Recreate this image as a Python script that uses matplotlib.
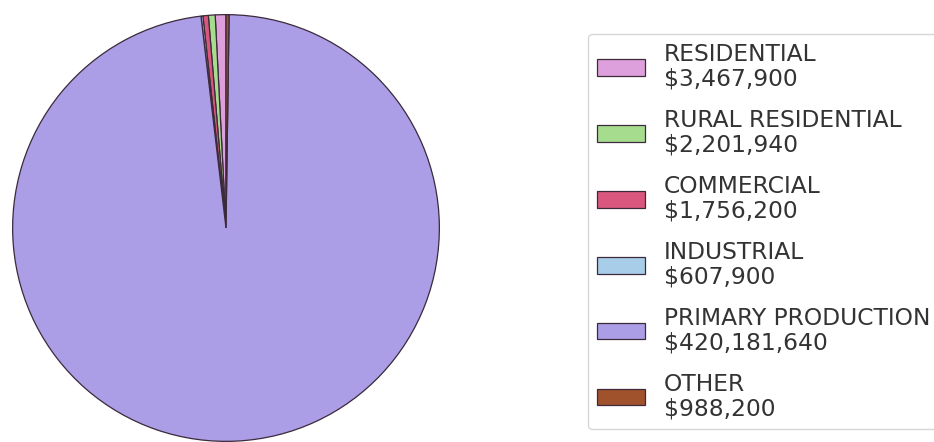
import matplotlib
matplotlib.use("Agg")
import matplotlib.pyplot as plt

categories = ["RESIDENTIAL", "RURAL RESIDENTIAL", "COMMERCIAL", "INDUSTRIAL",
              "PRIMARY PRODUCTION", "OTHER"]
values = [3467900, 2201940, 1756200, 607900, 420181640, 988200]
colors = ["#dda0dd", "#a6dc8e", "#d9567e", "#a8cde8", "#ab9de6", "#a0522d"]

labels = [f"{c}\n${v:,.0f}" for c, v in zip(categories, values)]

fig = plt.figure(figsize=(9.34, 4.42), dpi=100)
ax = fig.add_axes([12 / 934, 0 / 442, 428 / 934, 428 / 442])
wedges, _ = ax.pie(values, colors=colors, startangle=90, counterclock=True,
                   wedgeprops=dict(edgecolor="#3a2a3a", linewidth=0.9))
ax.set_xlim(-1.003, 1.003)
ax.set_ylim(-1.003, 1.003)
ax.set_aspect("equal")

leg = fig.legend(wedges, labels, loc="center left",
                 bbox_to_anchor=(588 / 934, 0.476), fontsize=16.8,
                 handlelength=2.05, handleheight=0.7, labelspacing=0.8,
                 handletextpad=0.8, frameon=True, fancybox=True,
                 borderpad=0.4, borderaxespad=0)
leg.get_frame().set_edgecolor("#cccccc")
for t in leg.get_texts():
    t.set_color("#333333")
    t.set_linespacing(1.07)

fig.savefig("out.png", dpi=100)
